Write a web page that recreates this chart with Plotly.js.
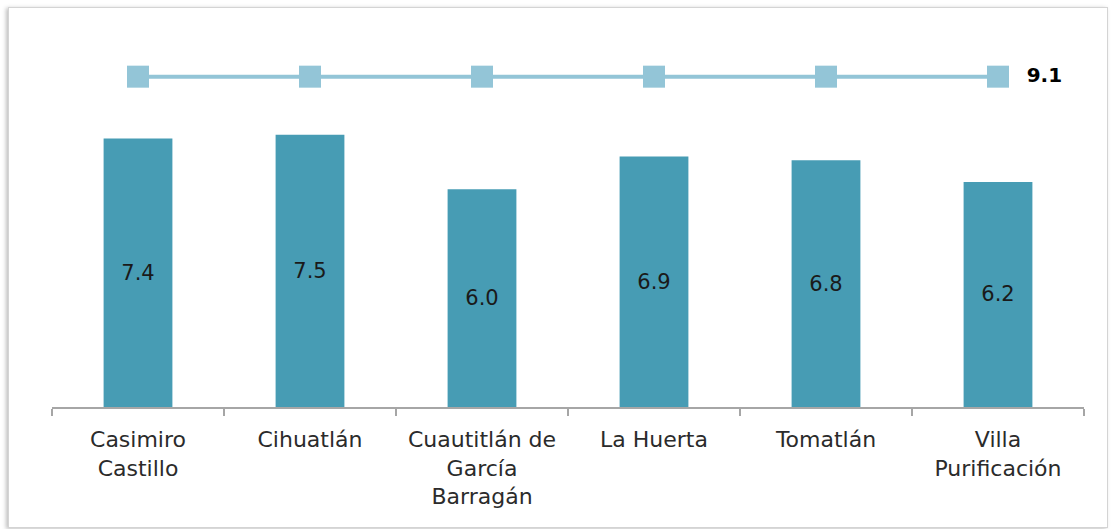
<!DOCTYPE html>
<html>
<head>
<meta charset="utf-8">
<script src="https://cdn.plot.ly/plotly-3.0.1.min.js"></script>
<style>
  html, body { margin: 0; padding: 0; background: #ffffff; }
  #wrap { position: relative; width: 1118px; height: 529px; overflow: hidden; }
  #frame { position: absolute; left: 8px; top: 7px; width: 1098px; height: 519px;
           border: 1px solid #d4d4d4; box-shadow: -2px 1px 4px rgba(0,0,0,0.25); background: #fff; }
  #chart { position: absolute; left: 0; top: 0; width: 1118px; height: 529px; }
</style>
</head>
<body>
<div id="wrap">
  <div id="frame"></div>
  <div id="chart"></div>
</div>
<script>
var categories = ["Casimiro<br>Castillo", "Cihuatlán", "Cuautitlán de<br>García<br>Barragán", "La Huerta", "Tomatlán", "Villa<br>Purificación"];
var barValues = [7.4, 7.5, 6.0, 6.9, 6.8, 6.2];
var lineValues = [9.1, 9.1, 9.1, 9.1, 9.1, 9.1];
var lineLabels = ["", "", "", "", "", "\u00a0\u00a09.1"];

var bars = {
  type: "bar",
  x: categories,
  y: barValues,
  marker: { color: "#479cb4", line: { width: 0 } },
  text: barValues.map(function (v) { return v.toFixed(1); }),
  textposition: "inside",
  insidetextanchor: "middle",
  textangle: 0,
  textfont: { family: "DejaVu Sans, Verdana, sans-serif", size: 21, color: "#1a1a1a" },
  hoverinfo: "skip",
  showlegend: false
};

var line = {
  type: "scatter",
  mode: "lines+markers+text",
  x: categories,
  y: lineValues,
  line: { color: "#93c5d7", width: 4 },
  marker: { symbol: "square", size: 22, color: "#93c5d7" },
  text: lineLabels,
  textposition: "middle right",
  textfont: { family: "DejaVu Sans, Verdana, sans-serif", size: 20, color: "#000000", weight: "bold" },
  cliponaxis: false,
  hoverinfo: "skip",
  showlegend: false
};

var layout = {
  width: 1118,
  height: 529,
  margin: { l: 52, r: 34, t: 44, b: 122 },
  paper_bgcolor: "rgba(0,0,0,0)",
  plot_bgcolor: "rgba(0,0,0,0)",
  bargap: 0.6,
  xaxis: {
    type: "category",
    showgrid: false,
    zeroline: false,
    showline: true,
    linecolor: "#a6a6a6",
    linewidth: 1.5,
    ticks: "outside",
    tickson: "boundaries",
    ticklen: 7,
    tickcolor: "#a6a6a6",
    tickwidth: 1.5,
    ticklabelstandoff: 12,
    tickfont: { family: "DejaVu Sans, Verdana, sans-serif", size: 22, color: "#2b2b2b" }
  },
  yaxis: {
    range: [0, 10],
    visible: false,
    showgrid: false,
    zeroline: false
  }
};

Plotly.newPlot("chart", [bars, line], layout, { displayModeBar: false, staticPlot: true });
</script>
</body>
</html>
